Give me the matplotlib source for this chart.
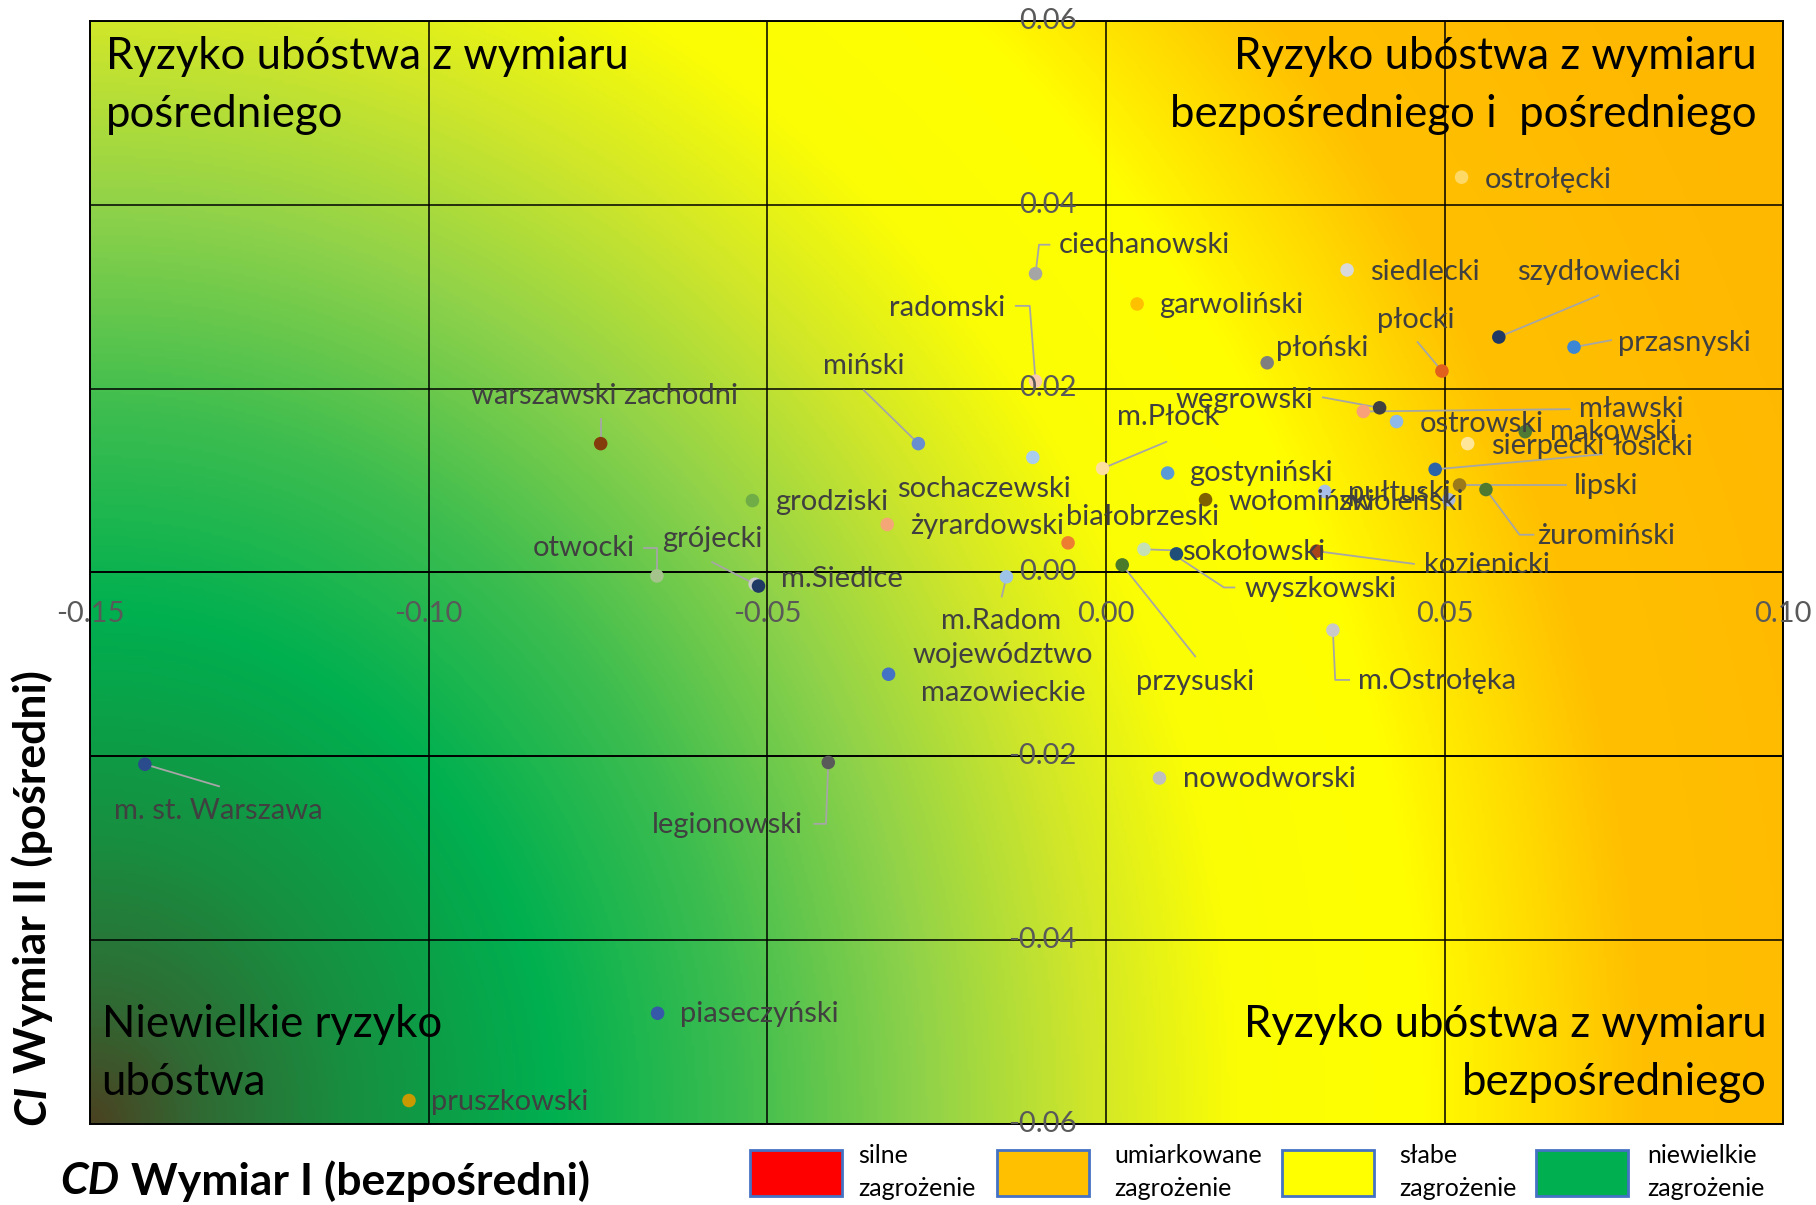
import numpy as np
import matplotlib.pyplot as plt
from matplotlib.colors import LinearSegmentedColormap
from matplotlib.patches import Rectangle

plt.rcParams['font.family'] = ['Lato', 'DejaVu Sans']

# powiaty: CD (wymiar I, bezposredni) and CI (wymiar II, posredni)
names = ['ostrołęcki', 'ciechanowski', 'siedlecki', 'szydłowiecki', 'garwoliński',
         'radomski', 'przasnyski', 'płoński', 'płocki', 'warszawski zachodni',
         'miński', 'węgrowski', 'mławski', 'ostrowski', 'makowski', 'm.Płock',
         'sierpecki', 'łosicki', 'gostyniński', 'sochaczewski', 'pułtuski', 'lipski',
         'żuromiński', 'wołomiński', 'zwoleński', 'żyrardowski', 'białobrzeski',
         'grodziski', 'otwocki', 'grójecki', 'm.Siedlce', 'm.Radom',
         'województwo\nmazowieckie', 'przysuski', 'sokołowski', 'wyszkowski',
         'kozienicki', 'm.Ostrołęka', 'nowodworski', 'm. st. Warszawa',
         'legionowski', 'piaseczyński', 'pruszkowski']
cd = [0.0525, -0.0104, 0.0356, 0.0580, 0.0046,
      -0.0104, 0.0691, 0.0238, 0.0496, -0.0746,
      -0.0277, 0.0404, 0.0380, 0.0429, 0.0619, -0.0005,
      0.0534, 0.0486, 0.0091, -0.0108, 0.0323, 0.0522,
      0.0561, 0.0147, 0.0506, -0.0323, -0.0056,
      -0.0522, -0.0663, -0.0518, -0.0513, -0.0147,
      -0.0321, 0.0024, 0.0056, 0.0104,
      0.0311, 0.0335, 0.0079, -0.1419,
      -0.0410, -0.0662, -0.1029]
ci = [0.0430, 0.0325, 0.0329, 0.0256, 0.0292,
      0.0208, 0.0245, 0.0228, 0.0219, 0.0140,
      0.0140, 0.0179, 0.0175, 0.0164, 0.0153, 0.0113,
      0.0140, 0.0112, 0.0108, 0.0125, 0.0088, 0.0095,
      0.0090, 0.0079, 0.0079, 0.0052, 0.0032,
      0.0078, -0.0004, -0.0013, -0.0015, -0.0005,
      -0.0111, 0.0008, 0.0025, 0.0020,
      0.0023, -0.0063, -0.0224, -0.0209,
      -0.0207, -0.0480, -0.0575]
colors = ['#ffd966', '#a5a5a5', '#d9d9d9', '#203864', '#ffc000',
          '#f8cbad', '#3b87d6', '#7f7f7f', '#e0601c', '#843c0c',
          '#698ed0', '#404040', '#f8a07a', '#8fb9e8', '#4e7a35', '#fde0a0',
          '#ffe699', '#2a64a8', '#5b9bd5', '#a9cdef', '#a8bfe8', '#9c7a1a',
          '#4d7a30', '#7f6000', '#a8b8dc', '#f5a677', '#ed7d31',
          '#70ad47', '#a4c48b', '#c9c9c9', '#1f3864', '#9dc3e6',
          '#4472c4', '#4a7a2a', '#c5e0b4', '#1f4e79',
          '#a9441a', '#c9c9c9', '#bfbfbf', '#2b4c8c',
          '#595959', '#3558a8', '#c89a00']

xticks = [-0.15, -0.10, -0.05, 0.00, 0.05, 0.10]
yticks = [0.06, 0.04, 0.02, 0.00, -0.02, -0.04, -0.06]

legend_labels = ['silne\nzagrożenie', 'umiarkowane\nzagrożenie', 'słabe\nzagrożenie', 'niewielkie\nzagrożenie']
legend_colors = ['#ff0000', '#ffc000', '#ffff00', '#00b050']

# label placement: offset in reference pixels (dx, dy down), alignment, leader path
PX_X, PX_Y = 5848.0, 7933.0
label_layout = {
    'ostrołęcki': (20, 2, 'left', None),
    'ciechanowski': (20, -25, 'left', [(0, 0), (3, -25), (12, -25)]),
    'siedlecki': (20, 2, 'left', None),
    'szydłowiecki': (86, -56, 'center', [(0, 0), (86, -36)]),
    'garwoliński': (19, 1, 'left', None),
    'radomski': (-26, -63, 'right', [(0, 0), (-5, -65), (-17, -65)]),
    'przasnyski': (38, -4, 'left', [(0, 0), (32, -6)]),
    'płoński': (8, -13, 'left', None),
    'płocki': (-23, -44, 'center', [(0, 0), (-21, -25)]),
    'warszawski zachodni': (3, -41, 'center', [(0, 0), (0, -21)]),
    'miński': (-47, -67, 'center', [(0, 0), (-47, -46)]),
    'węgrowski': (-57, -7, 'right', [(0, 0), (-49, -9)]),
    'mławski': (186, -2, 'left', [(0, 0), (178, -2)]),
    'ostrowski': (20, 2, 'left', None),
    'makowski': (21, 0, 'left', None),
    'm.Płock': (57, -44, 'center', [(0, 0), (55, -23)]),
    'sierpecki': (20, 2, 'left', None),
    'łosicki': (153, -19, 'left', [(0, 0), (144, -13)]),
    'gostyniński': (19, 0, 'left', None),
    'sochaczewski': (-42, 27, 'center', None),
    'pułtuski': (20, 1, 'left', None),
    'lipski': (99, 1, 'left', [(0, 0), (92, 0)]),
    'żuromiński': (44, 40, 'left', [(0, 0), (29, 39), (41, 39)]),
    'wołomiński': (20, 2, 'left', None),
    'zwoleński': (-41, 2, 'center', None),
    'żyrardowski': (20, 1, 'left', None),
    'białobrzeski': (64, -22, 'center', None),
    'grodziski': (20, 1, 'left', None),
    'otwocki': (-19, -24, 'right', [(0, -1), (0, -24), (-11, -24)]),
    'grójecki': (-37, -39, 'center', [(0, 0), (-37, -19)]),
    'm.Siedlce': (19, -6, 'left', None),
    'm.Radom': (-5, 38, 'center', [(0, 0), (-4, 17)]),
    'województwo\nmazowieckie': (99, 0, 'center', None),
    'przysuski': (63, 101, 'center', [(0, 0), (63, 79)]),
    'sokołowski': (33, 2, 'left', [(0, 0), (28, 1)]),
    'wyszkowski': (59, 30, 'left', [(0, 2), (41, 29), (50, 29)]),
    'kozienicki': (93, 12, 'left', [(0, 0), (84, 11)]),
    'm.Ostrołęka': (22, 44, 'left', [(0, 0), (2, 43), (14, 43)]),
    'nowodworski': (20, 1, 'left', None),
    'm. st. Warszawa': (63, 40, 'center', [(0, 0), (64, 19)]),
    'legionowski': (-22, 54, 'right', [(0, 0), (-2, 53), (-12, 53)]),
    'piaseczyński': (19, 1, 'left', None),
    'pruszkowski': (19, 1, 'left', None),
}

W, H = 1816, 1205
fig = plt.figure(figsize=(W / 100, H / 100), dpi=100)
ax = fig.add_axes([90 / W, 1 - 1123.5 / H, (1783.3 - 90) / W, (1123.5 - 21) / H])
ax.set_xlim(-0.15, 0.10)
ax.set_ylim(-0.06, 0.06)

# background: radial gradient from the bottom-left corner
gx, gy = np.meshgrid(np.linspace(-0.15, 0.10, 600), np.linspace(-0.06, 0.06, 400))
dist = np.sqrt(((gx + 0.15) * PX_X * 1.1) ** 2 + ((gy + 0.06) * PX_Y) ** 2) / 1462.0 / 1.2
stops = [(0.0, '#4a4322'), (0.06, '#2f6b34'), (0.14, '#178f40'), (0.25, '#00b050'),
         (0.35, '#3dbd4f'), (0.45, '#8fd24a'), (0.54, '#cfe62a'), (0.62, '#fbfd05'),
         (0.72, '#ffff00'), (0.84, '#ffc000'), (1.0, '#ffb800')]
cmap = LinearSegmentedColormap.from_list('bg', stops)
ax.imshow(dist, extent=[-0.15, 0.10, -0.06, 0.06], origin='lower', aspect='auto',
          cmap=cmap, vmin=0, vmax=1, zorder=0, interpolation='bilinear')

ax.set_xticks(xticks)
ax.set_yticks(yticks)
ax.tick_params(length=0, labelbottom=False, labelleft=False)
ax.grid(False)
for x in xticks:
    ax.axvline(x, color='black', lw=1.1, zorder=1)
for y in yticks:
    ax.axhline(y, color='black', lw=1.4 if y in (0.0, -0.02) else 1.1, zorder=1)
for s in ax.spines.values():
    s.set_color('black')
    s.set_linewidth(1.4)

tick_kw = dict(fontsize=21, color='#595959', zorder=6, clip_on=False)
for x in xticks:
    ax.text(x, -0.0045, f'{x:.2f}', ha='center', va='center', **tick_kw)
for y in yticks:
    ax.text(-0.0043, y, f'{y:.2f}', ha='right', va='center', **tick_kw)

# quadrant descriptions
q_kw = dict(fontsize=31.5, color='black', va='center', linespacing=1.53, zorder=5)
ax.text(-0.1476, 0.0530, 'Ryzyko ubóstwa z wymiaru\npośredniego', ha='left', **q_kw)
ax.text(0.0961, 0.0530, 'Ryzyko ubóstwa z wymiaru\nbezpośredniego i  pośredniego',
        ha='right', multialignment='right', **q_kw)
ax.text(-0.1483, -0.0524, 'Niewielkie ryzyko\nubóstwa', ha='left', **q_kw)
ax.text(0.0976, -0.0524, 'Ryzyko ubóstwa z wymiaru\nbezpośredniego', ha='right',
        multialignment='right', **q_kw)

# points, leader lines, labels
ax.scatter(cd, ci, c=colors, s=95, edgecolors='none', zorder=4)
for name, x, y in zip(names, cd, ci):
    dx, dy, ha, leader = label_layout[name]
    if leader:
        ax.plot([x + p[0] / PX_X for p in leader], [y - p[1] / PX_Y for p in leader],
                color='#a6a6a6', lw=1.3, zorder=3)
    ax.text(x + dx / PX_X, y - dy / PX_Y, name, ha=ha, va='center', fontsize=21,
            color='#404040', linespacing=1.55, zorder=5)

# axis titles
fig.canvas.draw()
r = fig.canvas.get_renderer()
ty = 1 - 1181 / H
t1 = fig.text(60 / W, ty, 'CD', fontsize=32, fontweight='bold', fontstyle='italic',
              ha='left', va='center')
bb = t1.get_window_extent(r)
fig.text((bb.x1 + 12) / W, ty, 'Wymiar I (bezpośredni)', fontsize=32, fontweight='bold',
         ha='left', va='center')
t2 = fig.text(32 / W, 1 - 1125 / H, 'CI', fontsize=32, fontweight='bold', fontstyle='italic',
              rotation=90, ha='center', va='bottom')
bb = t2.get_window_extent(r)
fig.text(32 / W, (bb.y1 + 12) / H, 'Wymiar II (pośredni)', fontsize=32, fontweight='bold',
         rotation=90, ha='center', va='bottom')

# legend boxes
rect_x = [750, 997, 1282, 1536]
text_x = [858, 1114, 1399, 1647]
for rx, tx, lab, col in zip(rect_x, text_x, legend_labels, legend_colors):
    fig.add_artist(Rectangle((rx / W, 1 - 1196 / H), 92 / W, 46 / H, facecolor=col,
                             edgecolor='#4472c4', lw=2, transform=fig.transFigure))
    fig.text(tx / W, 1 - 1172 / H, lab, fontsize=18, color='black', ha='left',
             va='center', linespacing=1.5)

fig.savefig('out.png', dpi=100)
